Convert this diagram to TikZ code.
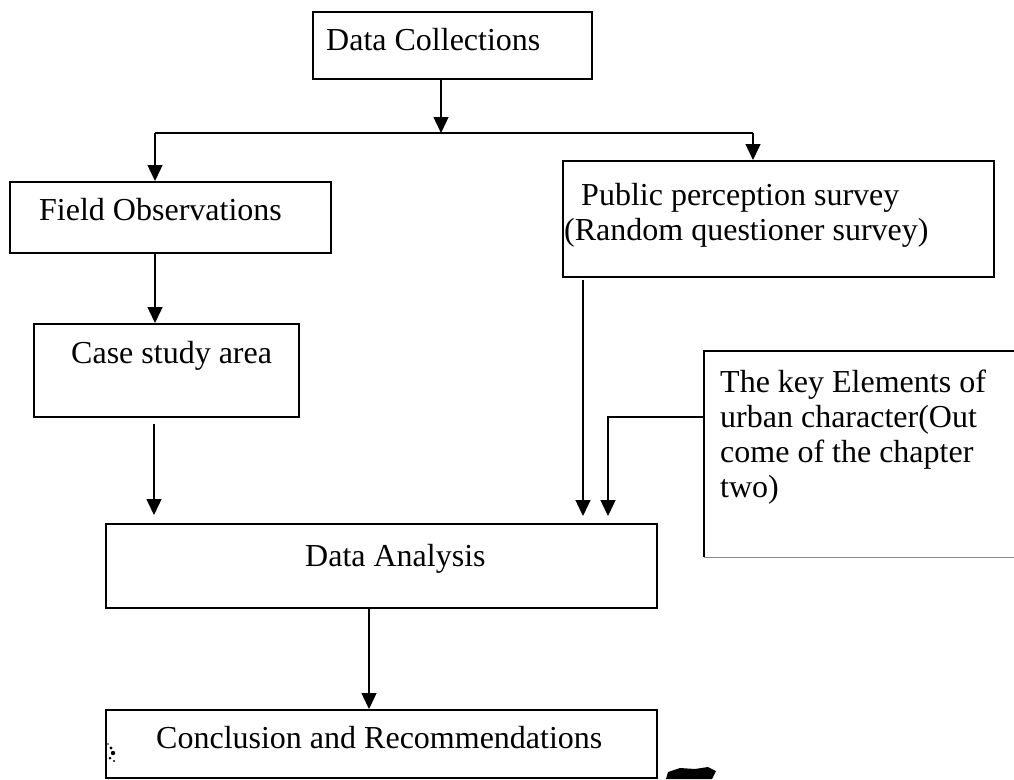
\documentclass[tikz,border=0pt]{standalone}
\usepackage{fontspec}
\setmainfont{Liberation Serif}
\usetikzlibrary{arrows.meta,calc}

\begin{document}
\begin{tikzpicture}[x=1pt,y=-1pt,
  box/.style={draw, line width=1.5pt, inner sep=0pt, anchor=north west},
  lbl/.style={anchor=base west, inner sep=0pt, font=\fontsize{32}{37}\selectfont},
  conn/.style={line width=1.4pt},
  arr/.style={conn, -{Triangle[width=15pt,length=16pt]}}]
\useasboundingbox (0,0) rectangle (1014,779);

% boxes
\node[box, minimum width=279pt, minimum height=67pt]  (dc) at (312,11)  {};
\node[box, minimum width=321pt, minimum height=71pt]  (fo) at (9,181)   {};
\node[box, minimum width=431pt, minimum height=116pt] (pp) at (562,160) {};
\node[box, minimum width=265pt, minimum height=93pt]  (cs) at (33,323)  {};
\node[box, minimum width=551pt, minimum height=84pt]  (da) at (105,523) {};
\node[box, minimum width=551pt, minimum height=68pt]  (cr) at (105,709) {};
% outcome box: open to the right edge, faint lower rule
\node[inner sep=0pt, anchor=north west, minimum width=320pt, minimum height=206pt] (ke) at (704,351) {};
\draw[line width=1.5pt] (ke.south west) -- (ke.north west) -- (ke.north east);
\draw[line width=1pt, black!45] (ke.south west) -- (ke.south east);

% texts
\node[lbl] (dct) at (326,50)  {Data Collections};
\node[lbl] (fot) at (39,220)  {Field Observations};
\node[lbl] (pp1) at (581,205) {Public perception survey};
\node[lbl] (pp2) at (564,240) {(Random questioner survey)};
\node[lbl] (cst) at (71,363)  {Case study area};
\node[lbl] (ke1) at (720,392) {The key Elements of};
\node[lbl] (ke2) at (720,427) {urban character(Out};
\node[lbl] (ke3) at (720,462) {come of the chapter};
\node[lbl] (ke4) at (720,497) {two)};
\node[lbl] (dat) at (305,566) {Data Analysis};
\node[lbl] (crt) at (156,748) {Conclusion and Recommendations};

% connector points
\coordinate (j)  at (441,133);
\coordinate (jl) at (155,133);
\coordinate (jr) at (753,133);
\coordinate (c1) at (154,0);
\coordinate (p1) at (583,0);
\coordinate (k1) at (608,417);
\coordinate (cx) at (369,0);

% connectors
\draw[arr] (j |- dc.south) -- (j);
\draw[conn] (jl) -- (jr);
\draw[arr] (jl) -- (jl |- fo.north);
\draw[arr] (jr) -- (jr |- pp.north);
\draw[arr] (jl |- fo.south) -- (jl |- cs.north);
\draw[arr, shorten <=6pt, shorten >=8pt] (c1 |- cs.south) -- (c1 |- da.north);
\draw[arr, shorten <=2pt, shorten >=7pt] (p1 |- pp.south) -- (p1 |- da.north);
\draw[arr, shorten >=7pt] (ke.west |- k1) -- (k1) -- (k1 |- da.north);
\draw[arr] (cx |- da.south) -- (cx |- cr.north);

% ink specks
\fill (111,748) circle (1.6pt) (113,753) circle (2.2pt) (110,758) circle (1.5pt) (114,761) circle (1.2pt) (108,744) circle (0.9pt);
\fill (668,772) -- (680,768) -- (695,769) -- (708,767) -- (716,771) -- (712,779) -- (666,779) -- cycle;
\end{tikzpicture}
\end{document}
